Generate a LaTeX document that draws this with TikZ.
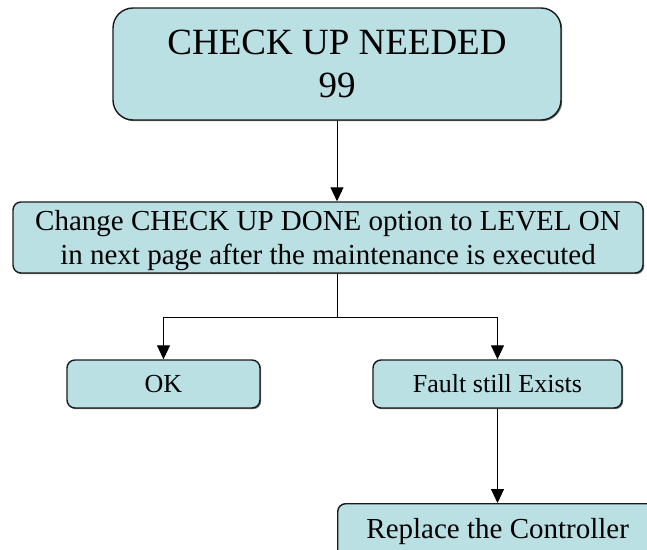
\documentclass[tikz,border=0pt]{standalone}
\usepackage{fontspec}
\setmainfont{Liberation Serif}
\usepackage{tikz}
\usetikzlibrary{arrows.meta, positioning, calc, shadows}
\definecolor{boxfill}{HTML}{BAE0E3}
\definecolor{boxline}{HTML}{1A1A1A}

\tikzset{
    flowbox/.style={draw=boxline, fill=boxfill, line width=1.4pt, rounded corners=8pt,
        align=center, inner sep=0pt,
        drop shadow={shadow xshift=1.2pt, shadow yshift=-1.2pt, fill=black!55, opacity=1}},
    link/.style={line width=0.9pt, -{Triangle[length=14pt, width=13pt]}}
}

\begin{document}
\begin{tikzpicture}[x=1pt, y=-1pt]
    % page frame
    \clip (0,0) rectangle (647,549);

    % Boxes
    \node[flowbox, rounded corners=20pt, minimum width=448pt, minimum height=112pt,
          font=\fontsize{37}{43}\selectfont, text depth=-4pt] (need) at (337,64) {CHECK UP NEEDED\\99};
    \node[flowbox, minimum width=630pt, minimum height=71pt,
          font=\fontsize{29}{34}\selectfont, text depth=0pt] (change) at (328,237.5)
          {Change CHECK UP DONE option to LEVEL ON\\in next page after the maintenance is executed};
    \node[flowbox, minimum width=193pt, minimum height=48pt,
          font=\fontsize{26}{30}\selectfont] (ok) at (163.5,384) {OK};
    \node[flowbox, minimum width=249pt, minimum height=48pt,
          font=\fontsize{26}{30}\selectfont] (fault) at (497.5,384) {Fault still Exists};
    \node[flowbox, minimum width=320pt, minimum height=64pt, anchor=north west,
          font=\fontsize{29}{34}\selectfont, text depth=0pt] (replace) at (337,503) {\raisebox{14pt}{Replace the Controller}};

    % Connectors
    \draw[link] (need.south) -- (need.south |- change.north);
    \draw[line width=0.9pt] (need.south |- change.south) -- ++(0,44) coordinate (split);
    \draw[link] (split) -| (ok.north);
    \draw[link] (split) -| (fault.north);
    \draw[link] (fault.south) -- (fault.south |- replace.north);
\end{tikzpicture}
\end{document}
